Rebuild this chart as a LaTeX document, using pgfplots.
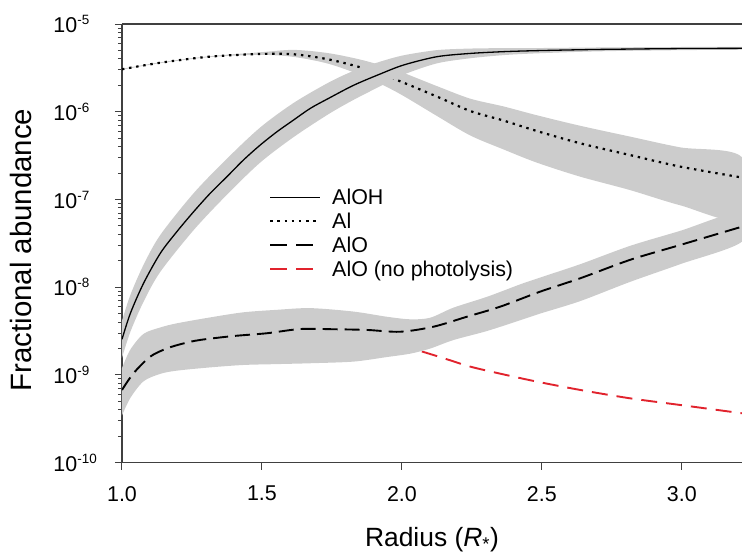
\documentclass[border=0pt]{standalone}
\usepackage{fontspec}
\setmainfont{Liberation Sans}
\usepackage{pgfplots}
\pgfplotsset{compat=1.18}
\newcommand\sups[1]{\raisebox{8bp}{\fontsize{13.5}{14}\selectfont #1}}
\newcommand\ylab[1]{\makebox[58bp][l]{10\sups{#1}}}
\definecolor{band}{RGB}{204,204,204}
\definecolor{myred}{RGB}{225,35,45}
\begin{document}
\begin{tikzpicture}
\begin{axis}[
  at={(0,0)}, anchor=south west,
  scale only axis, width=620bp, height=438.7bp,
  xmin=1, xmax=3.215, ymin=1e-10, ymax=1e-5, ymode=log,
  axis x line=box, axis y line=left,
  axis line style={-, black!75, line width=1.1bp},
  xtick pos=left,
  tick align=outside,
  major tick length=7bp, minor tick length=4bp,
  tick style={black!75, line width=1bp},
  xtick={1,1.5,2,2.5,3}, xticklabels={1.0,1.5,2.0,2.5,3.0},
  ytick={1e-10,1e-9,1e-8,1e-7,1e-6,1e-5},
  yticklabels={\ylab{-10},\ylab{-9},\ylab{-8},\ylab{-7},\ylab{-6},\ylab{-5}},
  minor ytick={2e-10,3e-10,4e-10,5e-10,6e-10,7e-10,8e-10,9e-10,
               2e-9,3e-9,4e-9,5e-9,6e-9,7e-9,8e-9,9e-9,
               2e-8,3e-8,4e-8,5e-8,6e-8,7e-8,8e-8,9e-8,
               2e-7,3e-7,4e-7,5e-7,6e-7,7e-7,8e-7,9e-7,
               2e-6,3e-6,4e-6,5e-6,6e-6,7e-6,8e-6,9e-6},
  ticklabel style={font=\fontsize{21.5}{25}\selectfont},
  xticklabel style={yshift=-13bp},
  xlabel={Radius (\textit{R}\textsubscript{*})},
  ylabel={Fractional abundance},
  xlabel style={font=\fontsize{26.5}{31}\selectfont, at={(axis description cs:0.5,-0.19)}, anchor=base},
  ylabel style={font=\fontsize{29.5}{34}\selectfont, at={(axis description cs:-0.1452,0.485)}, anchor=base},
  legend style={at={(0.232,0.634)}, anchor=north west, draw=none, fill=none,
    font=\fontsize{21.5}{25}\selectfont, column sep=9bp, row sep=3bp},
  legend cell align=left,
  legend image code/.code={\draw[#1] (0bp,0bp) -- (50bp,0bp);},
]
% ---- Al band (upper edge, then lower edge back) and line
\addplot[fill=band, draw=none, smooth, forget plot] coordinates {
(1.000,3.085e-6) (1.137,3.66e-6) (1.315,4.30e-6) (1.494,4.76e-6) (1.613,5.07e-6) (1.738,4.65e-6)
(1.863,3.85e-6) (1.982,2.96e-6) (2.125,1.96e-6) (2.244,1.41e-6) (2.363,1.15e-6) (2.482,9.12e-7)
(2.637,6.92e-7) (2.815,5.21e-7) (2.994,3.93e-7) (3.215,3.02e-7)
(3.215,5.89e-8) (2.994,8.59e-8) (2.815,1.28e-7) (2.637,1.82e-7) (2.482,2.63e-7) (2.363,3.72e-7)
(2.244,5.37e-7) (2.125,8.95e-7) (1.982,1.67e-6) (1.863,2.54e-6) (1.738,3.52e-6) (1.613,4.22e-6)
(1.494,4.45e-6) (1.315,4.20e-6) (1.137,3.58e-6) (1.000,3.015e-6)} -- cycle;
\addplot[black, line width=2.2bp, dash pattern=on 2.4bp off 4.8bp, smooth, forget plot] coordinates {
(1.000,3.05e-6) (1.137,3.62e-6) (1.315,4.25e-6) (1.494,4.55e-6) (1.613,4.52e-6) (1.738,3.95e-6)
(1.863,3.13e-6) (1.982,2.30e-6) (2.125,1.49e-6) (2.244,1.02e-6) (2.363,7.94e-7) (2.482,6.03e-7)
(2.637,4.37e-7) (2.815,3.21e-7) (2.994,2.37e-7) (3.215,1.78e-7)};
% ---- AlOH band and line
\addplot[fill=band, draw=none, smooth, forget plot] coordinates {
(1.000,4.14e-9) (1.030,8.18e-9) (1.077,1.80e-8) (1.137,3.95e-8) (1.256,1.18e-7) (1.375,2.92e-7)
(1.494,6.63e-7) (1.613,1.26e-6) (1.738,2.15e-6) (1.827,2.92e-6) (1.922,3.72e-6) (2.006,4.40e-6)
(2.125,5.04e-6) (2.244,5.25e-6) (2.363,5.31e-6) (2.482,5.32e-6) (2.70,5.40e-6) (3.00,5.47e-6) (3.215,5.47e-6)
(3.215,5.11e-6) (3.00,5.04e-6) (2.70,4.88e-6) (2.482,4.63e-6) (2.363,4.42e-6) (2.244,4.07e-6)
(2.125,3.56e-6) (2.006,2.65e-6) (1.922,1.95e-6) (1.827,1.365e-6) (1.738,9.40e-7) (1.613,5.14e-7)
(1.494,2.64e-7) (1.375,1.135e-7) (1.256,4.48e-8) (1.137,1.50e-8) (1.077,6.84e-9) (1.030,3.11e-9) (1.000,1.57e-9)} -- cycle;
\addplot[black, line width=1.3bp, smooth, forget plot] coordinates {
(1.000,2.55e-9) (1.030,5.05e-9) (1.077,1.109e-8) (1.137,2.44e-8) (1.196,4.30e-8) (1.256,7.26e-8)
(1.315,1.175e-7) (1.375,1.82e-7) (1.434,2.82e-7) (1.494,4.18e-7) (1.554,5.93e-7) (1.613,8.05e-7)
(1.673,1.094e-6) (1.738,1.42e-6) (1.827,2.00e-6) (1.922,2.69e-6) (2.006,3.41e-6) (2.125,4.24e-6)
(2.244,4.62e-6) (2.363,4.84e-6) (2.482,4.97e-6) (2.70,5.13e-6) (3.00,5.25e-6) (3.215,5.28e-6)};
% ---- AlO (no photolysis), under the AlO band
\addplot[myred, line width=1.9bp, dash pattern=on 16bp off 9bp, smooth, forget plot] coordinates {
(1.90,2.69e-9) (2.053,1.93e-9) (2.15,1.55e-9) (2.244,1.245e-9) (2.36,1.02e-9) (2.482,8.40e-10)
(2.637,6.75e-10) (2.815,5.42e-10) (2.994,4.55e-10) (3.215,3.66e-10)};
% ---- AlO band and line
\addplot[fill=band, draw=none, smooth, forget plot] coordinates {
(1.000,1.20e-9) (1.030,1.95e-9) (1.077,2.94e-9) (1.137,3.48e-9) (1.196,3.88e-9) (1.315,4.53e-9)
(1.434,5.18e-9) (1.554,5.53e-9) (1.673,5.78e-9) (1.827,5.28e-9) (1.946,4.61e-9) (2.030,4.31e-9)
(2.101,4.49e-9) (2.184,5.85e-9) (2.304,7.78e-9) (2.423,1.08e-8) (2.494,1.29e-8) (2.637,1.83e-8)
(2.815,2.96e-8) (2.994,4.39e-8) (3.215,7.24e-8)
(3.215,3.31e-8) (2.994,1.83e-8) (2.815,1.15e-8) (2.637,6.95e-9) (2.494,5.01e-9) (2.423,4.21e-9)
(2.304,3.17e-9) (2.184,2.50e-9) (2.101,2.00e-9) (2.030,1.75e-9) (1.946,1.60e-9) (1.827,1.42e-9)
(1.673,1.36e-9) (1.554,1.33e-9) (1.434,1.30e-9) (1.315,1.22e-9) (1.196,1.12e-9) (1.137,1.03e-9)
(1.077,8.47e-10) (1.030,5.48e-10) (1.000,3.46e-10)} -- cycle;
\addplot[black, line width=1.9bp, dash pattern=on 15bp off 7bp, smooth, forget plot] coordinates {
(1.000,6.75e-10) (1.041,1.045e-9) (1.101,1.62e-9) (1.161,2.01e-9) (1.220,2.29e-9) (1.280,2.51e-9)
(1.399,2.78e-9) (1.518,2.99e-9) (1.637,3.34e-9) (1.756,3.32e-9) (1.875,3.26e-9) (1.994,3.11e-9)
(2.113,3.55e-9) (2.232,4.61e-9) (2.351,6.00e-9) (2.494,8.91e-9) (2.637,1.265e-8)
(2.815,2.05e-8) (2.994,3.03e-8) (3.215,4.90e-8)};
% ---- legend
\addlegendimage{black, line width=1.3bp}
\addlegendentry{AlOH}
\addlegendimage{black, line width=2.2bp, dash pattern=on 2.4bp off 4.8bp}
\addlegendentry{Al}
\addlegendimage{black, line width=1.9bp, dash pattern=on 17bp off 9bp on 17bp off 60bp}
\addlegendentry{AlO}
\addlegendimage{myred, line width=1.9bp, dash pattern=on 17bp off 9bp on 17bp off 60bp}
\addlegendentry{AlO (no photolysis)}
\end{axis}
\pgfresetboundingbox
\useasboundingbox (-122bp,-91.3bp) rectangle (620bp,462.7bp);
\end{tikzpicture}
\end{document}
